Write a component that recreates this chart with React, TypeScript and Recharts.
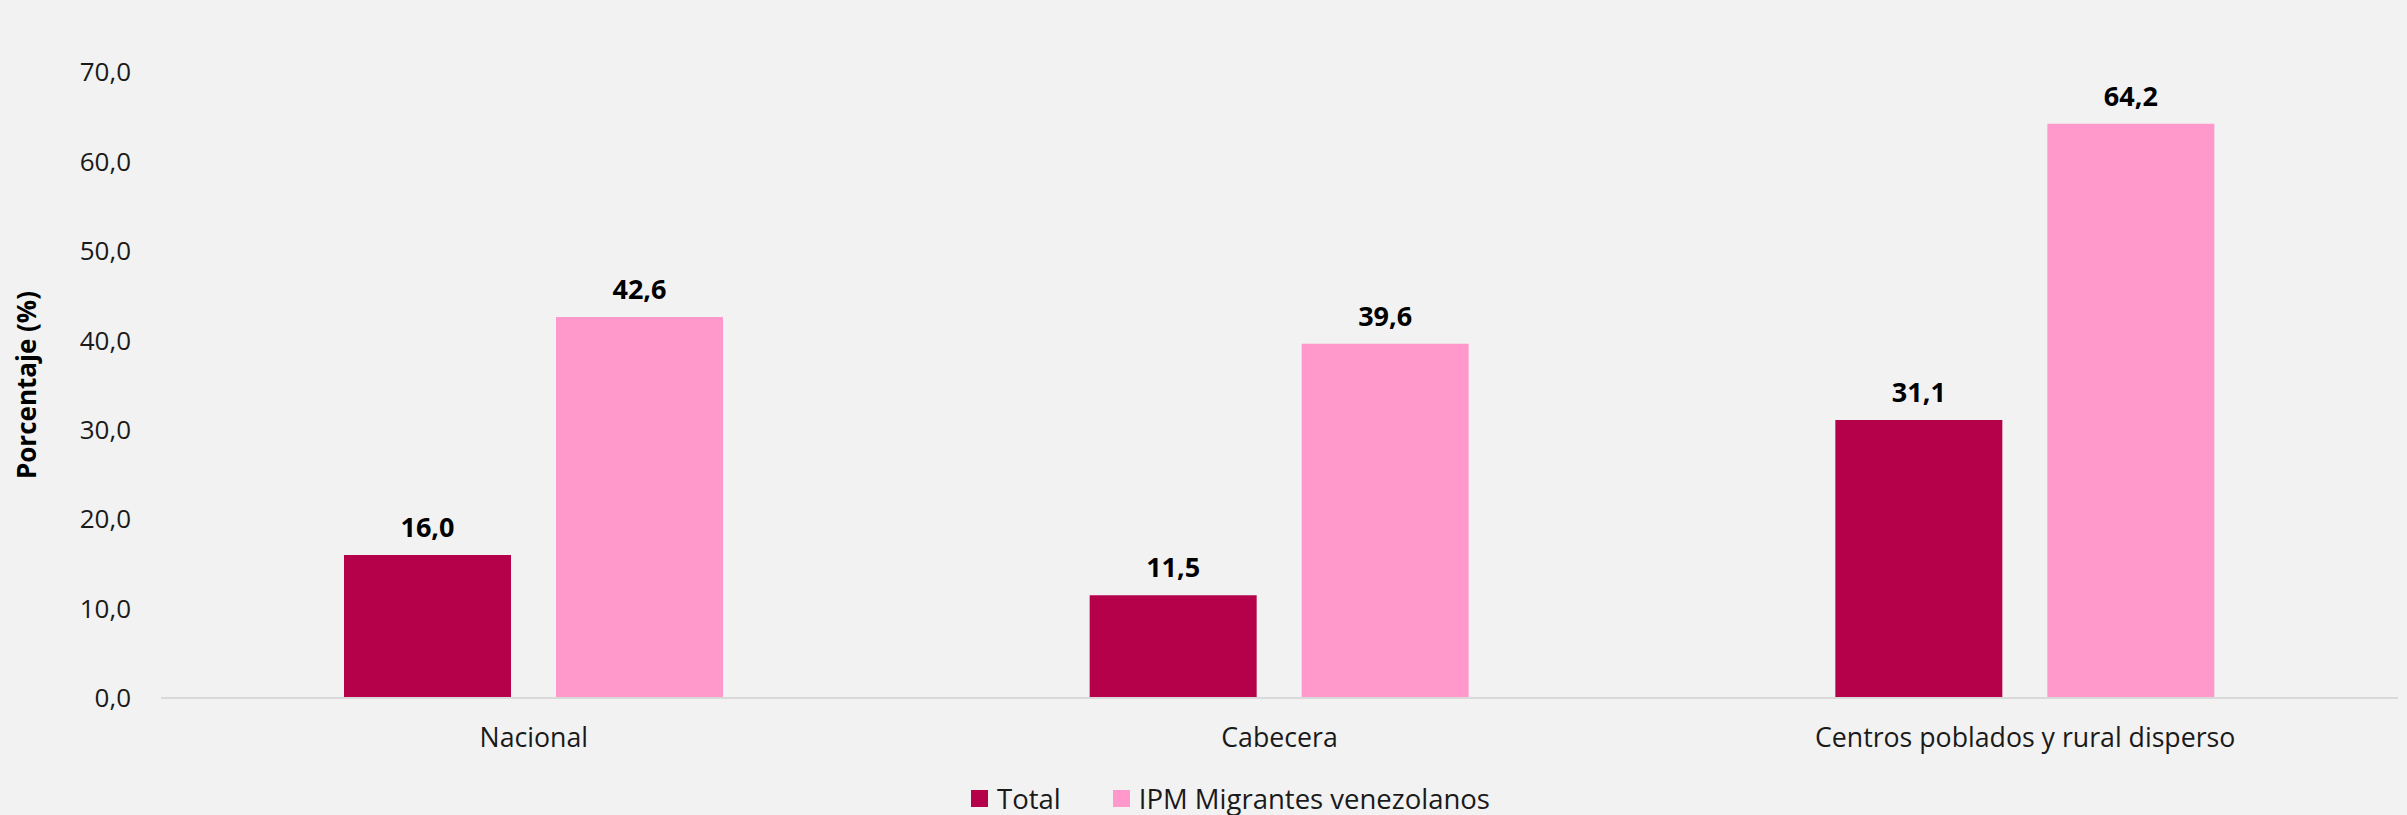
import React from 'react';
import { BarChart, Bar, XAxis, YAxis, Legend, LabelList } from 'recharts';

const categories = ['Nacional', 'Cabecera', 'Centros poblados y rural disperso'];
const totalValues = [16.0, 11.5, 31.1];
const migrantValues = [42.6, 39.6, 64.2];
const yTicks = [0, 10, 20, 30, 40, 50, 60, 70];
const seriesNames = ['Total', 'IPM Migrantes venezolanos'];
const seriesColors = ['#b5004a', '#ff99cc'];

const data = categories.map((c, i) => ({ name: c, total: totalValues[i], migrantes: migrantValues[i] }));

const FONT = "'Open Sans', 'Noto Sans', sans-serif";
const fmt = (v: any) => Number(v).toFixed(1).replace('.', ',');

const LegendContent = () => (
  <div style={{ display: 'flex', justifyContent: 'center', alignItems: 'center', fontFamily: FONT, fontSize: 27.5, color: '#1a1a1a' }}>
    {seriesNames.map((n, i) => (
      <div key={n} style={{ display: 'flex', alignItems: 'center', marginRight: i === 0 ? 52 : 0 }}>
        <span style={{ display: 'inline-block', width: 17, height: 17, background: seriesColors[i], marginRight: 9 }} />
        <span>{n}</span>
      </div>
    ))}
  </div>
);

const YTitle = (props: any) => {
  const vb = props.viewBox || {};
  const cy = vb.y + vb.height / 2;
  return (
    <text x={26} y={cy} transform={`rotate(-90, 26, ${cy})`} textAnchor="middle" dominantBaseline="central"
      style={{ fontFamily: FONT, fontSize: 26, fontWeight: 700, fill: '#000' }}>
      Porcentaje (%)
    </text>
  );
};

export default function App() {
  return (
    <div style={{ position: 'absolute', left: 0, top: 0, width: 2407, height: 815, background: '#f2f2f2' }}>
      <BarChart width={2407} height={815} data={data} margin={{ top: 72, right: 9, left: 0, bottom: 57 }}
        barSize={167} barGap={45}>
        <XAxis dataKey="name" height={60} tickLine={false} tickSize={0} tickMargin={30}
          axisLine={{ stroke: '#d9d9d9', strokeWidth: 2 }}
          tick={{ fontFamily: FONT, fontSize: 26.7, fill: '#1a1a1a' }} />
        <YAxis width={161} domain={[0, 70]} ticks={yTicks} axisLine={false} tickLine={false} tickSize={0}
          tickMargin={30} tickFormatter={fmt} tick={{ fontFamily: FONT, fontSize: 26, fill: '#1a1a1a' }}
          label={<YTitle />} />
        <Legend layout="horizontal" verticalAlign="middle" align="center" content={<LegendContent />}
          wrapperStyle={{ top: 780, left: 27, width: 2407 }} />
        <Bar dataKey="total" name={seriesNames[0]} fill={seriesColors[0]} isAnimationActive={false}>
          <LabelList dataKey="total" position="top" offset={18} formatter={fmt}
            style={{ fontFamily: FONT, fontSize: 27, fontWeight: 700, fill: '#000' }} />
        </Bar>
        <Bar dataKey="migrantes" name={seriesNames[1]} fill={seriesColors[1]} isAnimationActive={false}>
          <LabelList dataKey="migrantes" position="top" offset={18} formatter={fmt}
            style={{ fontFamily: FONT, fontSize: 27, fontWeight: 700, fill: '#000' }} />
        </Bar>
      </BarChart>
    </div>
  );
}
